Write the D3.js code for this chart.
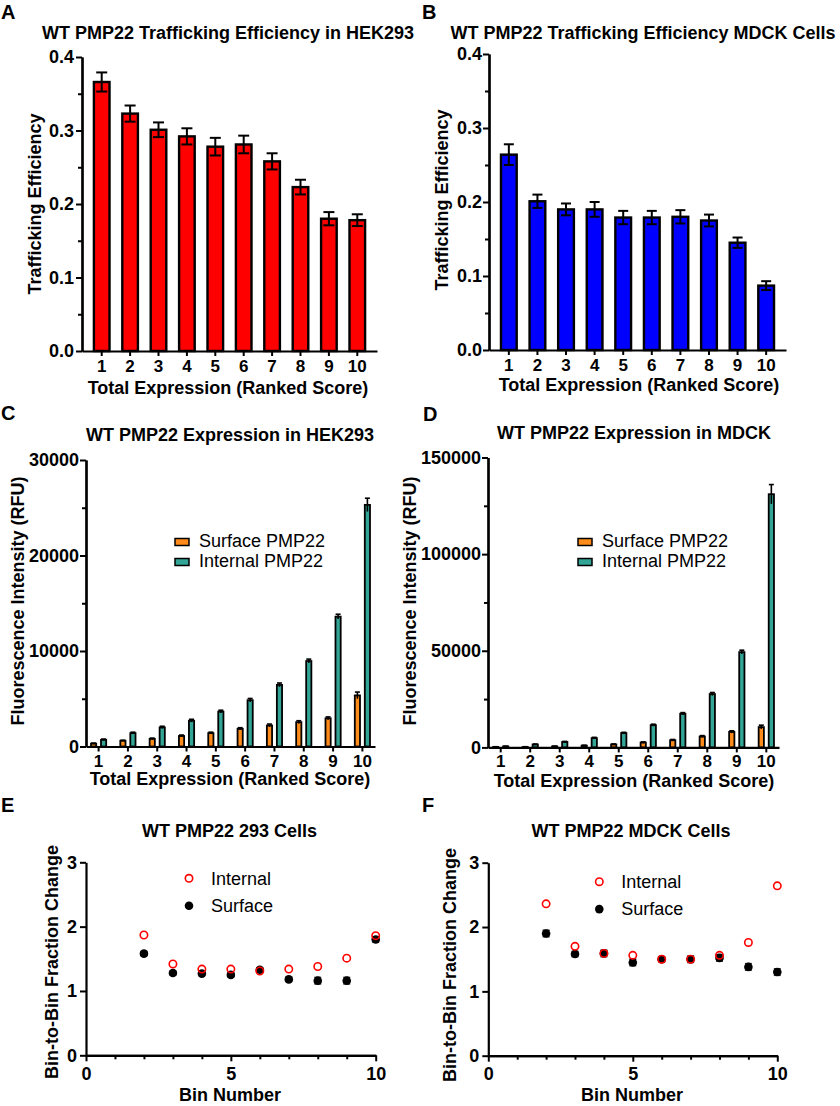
<!DOCTYPE html>
<html><head><meta charset="utf-8">
<script src="https://cdn.jsdelivr.net/npm/d3@7"></script>
<style>body{margin:0;background:#fff} text{font-family:Arial,"Liberation Sans",sans-serif}</style>
</head><body>
<svg id="c" width="840" height="1106" xmlns="http://www.w3.org/2000/svg"></svg>
<script>
// ---------- data ----------
const ranks = ["1","2","3","4","5","6","7","8","9","10"];
const hekEff = [0.366,0.323,0.301,0.292,0.278,0.281,0.258,0.223,0.180,0.178];
const hekEffErr = [0.013,0.011,0.010,0.011,0.012,0.012,0.011,0.010,0.009,0.008];
const mdckEff = [0.264,0.201,0.190,0.190,0.179,0.179,0.180,0.175,0.145,0.087];
const mdckEffErr = [0.014,0.009,0.008,0.010,0.009,0.009,0.009,0.008,0.007,0.006];

const hekSurface = [300,600,800,1100,1400,1850,2200,2550,2950,5350];
const hekSurfaceErr = [60,60,80,100,100,120,150,150,150,350];
const hekInternal = [700,1400,2000,2700,3650,4850,6450,8950,13600,25300];
const hekInternalErr = [80,100,120,150,150,180,200,200,250,700];

const mdckSurface = [200,200,500,900,1500,2500,3700,5600,8000,10500];
const mdckSurfaceErr = [150,150,200,250,300,350,400,500,600,1000];
const mdckInternal = [500,1500,2800,4800,7400,11500,17400,27600,49300,131000];
const mdckInternalErr = [150,250,300,400,400,500,600,800,1000,5000];

const bins = [2,3,4,5,6,7,8,9,10];
const hekBinInternal = [1.87,1.42,1.34,1.34,1.31,1.34,1.38,1.51,1.86];
const hekBinSurface = [1.58,1.28,1.27,1.25,1.33,1.18,1.16,1.16,1.80];
const hekBinSurfaceErr = [0.03,0.03,0.03,0.03,0.03,0.03,0.05,0.05,0.04];
const mdckBinInternal = [2.36,1.70,1.59,1.56,1.50,1.50,1.56,1.76,2.64];
const mdckBinSurface = [1.90,1.58,1.59,1.45,1.50,1.50,1.52,1.38,1.30];
const mdckBinSurfaceErr = [0.05,0.04,0.05,0.05,0.04,0.05,0.05,0.05,0.05];

const seriesNames = ["Surface PMP22","Internal PMP22"];
const scatterNames = ["Internal","Surface"];

// ---------- styles ----------
const RED = "#ff0000", BLUE = "#0000ff", ORANGE = "#ff8c1a", TEAL = "#33a596";
const svg = d3.select("#c");

function label(x, y, s, size, weight, anchor, rot) {
  const t = svg.append("text").attr("x", x).attr("y", y).attr("dy", "0.35em")
    .attr("font-size", size).attr("font-weight", weight || "bold")
    .attr("text-anchor", anchor || "middle").attr("fill", "#000").text(s);
  if (rot) t.attr("transform", `rotate(-90,${x},${y})`);
  return t;
}

function styleAxis(g, size, weight) {
  g.select(".domain").attr("stroke", "#000").attr("stroke-width", 2.2);
  g.selectAll(".tick line").attr("stroke", "#000").attr("stroke-width", 2);
  g.selectAll(".tick text").attr("font-size", size).attr("font-weight", weight || "bold")
    .attr("fill", "#000").attr("font-family", 'Arial,"Liberation Sans",sans-serif');
}

function yAxis(y, x0, major, minor, fmt, pad) {
  const gm = svg.append("g").attr("transform", `translate(${x0},0)`)
    .call(d3.axisLeft(y).tickValues(minor).tickSize(4).tickSizeOuter(0).tickFormat(""));
  styleAxis(gm, 18);
  const g = svg.append("g").attr("transform", `translate(${x0},0)`)
    .call(d3.axisLeft(y).tickValues(major).tickSize(6).tickSizeOuter(0).tickPadding(pad).tickFormat(fmt));
  styleAxis(g, 18);
}

// ---------- bar panels A & B ----------
function effPanel(cfg) {
  const x = d3.scaleBand().domain(ranks).range(cfg.xr).paddingInner(0.366).paddingOuter(0.377);
  const y = d3.scaleLinear().domain([0, 0.4]).range(cfg.yr);
  const bw = x.bandwidth();
  svg.append("g").selectAll("rect").data(cfg.vals).join("rect")
    .attr("x", (d, i) => x(ranks[i]) + 1.2).attr("width", bw - 2.4)
    .attr("y", d => y(d)).attr("height", d => y(0) - y(d))
    .attr("fill", cfg.color).attr("stroke", "#000").attr("stroke-width", 2.4);
  const eb = svg.append("g").attr("stroke", "#000").attr("stroke-width", 2);
  cfg.vals.forEach((v, i) => {
    const cx = x(ranks[i]) + bw / 2, e = cfg.errs[i];
    eb.append("line").attr("x1", cx).attr("x2", cx).attr("y1", y(v - e)).attr("y2", y(v + e));
    [v - e, v + e].forEach(w => eb.append("line").attr("x1", cx - cfg.cap / 2).attr("x2", cx + cfg.cap / 2)
      .attr("y1", y(w)).attr("y2", y(w)));
  });
  yAxis(y, cfg.xr[0], [0, 0.1, 0.2, 0.3, 0.4], [0.05, 0.15, 0.25, 0.35], d3.format(".1f"), cfg.ypad);
  const gx = svg.append("g").attr("transform", `translate(0,${cfg.yr[0]})`)
    .call(d3.axisBottom(x).tickSize(5).tickSizeOuter(0).tickPadding(4));
  styleAxis(gx, 17);
}

effPanel({xr: [82, 377], yr: [351, 57], vals: hekEff, errs: hekEffErr, color: RED, cap: 11, ypad: 2});
effPanel({xr: [489, 786], yr: [350, 54], vals: mdckEff, errs: mdckEffErr, color: BLUE, cap: 10, ypad: 1});

// ---------- grouped bar panels C & D ----------
function exprPanel(cfg) {
  const x0 = d3.scaleBand().domain(ranks).range(cfg.xr).paddingInner(0.42).paddingOuter(0.14);
  const x1 = d3.scaleBand().domain(seriesNames).range([0, x0.bandwidth()]).paddingInner(0.3);
  const y = d3.scaleLinear().domain([0, cfg.ymax]).range(cfg.yr);
  const bw = x1.bandwidth();
  const series = [
    {name: seriesNames[0], vals: cfg.surf, errs: cfg.surfErr, color: ORANGE},
    {name: seriesNames[1], vals: cfg.intl, errs: cfg.intlErr, color: TEAL}
  ];
  series.forEach(s => {
    svg.append("g").selectAll("rect").data(s.vals).join("rect")
      .attr("x", (d, i) => x0(ranks[i]) + x1(s.name) + 0.9).attr("width", bw - 1.8)
      .attr("y", d => y(d)).attr("height", d => Math.max(0, y(0) - y(d)))
      .attr("fill", s.color).attr("stroke", "#000").attr("stroke-width", 1.8);
    const eb = svg.append("g").attr("stroke", "#000").attr("stroke-width", 1.6);
    s.vals.forEach((v, i) => {
      const cx = x0(ranks[i]) + x1(s.name) + bw / 2, e = s.errs[i];
      eb.append("line").attr("x1", cx).attr("x2", cx).attr("y1", y(Math.max(0, v - e))).attr("y2", y(v + e));
      eb.append("line").attr("x1", cx - 2.5).attr("x2", cx + 2.5).attr("y1", y(v + e)).attr("y2", y(v + e));
    });
  });
  yAxis(y, cfg.xr[0], cfg.major, cfg.minor, d3.format("d"), 1);
  const gx = svg.append("g").attr("transform", `translate(0,${cfg.yr[0]})`)
    .call(d3.axisBottom(x0).tickSize(5).tickSizeOuter(0).tickPadding(3));
  styleAxis(gx, 17);
  // legend
  series.forEach((s, i) => {
    const ly = cfg.leg[1] + i * 20;
    svg.append("rect").attr("x", cfg.leg[0]).attr("y", ly - 3.5).attr("width", 14).attr("height", 7)
      .attr("fill", s.color).attr("stroke", "#000").attr("stroke-width", 1.5);
    label(cfg.leg[0] + 24, ly - 1, s.name, 18, "normal", "start");
  });
}

exprPanel({xr: [86, 375], yr: [746.5, 460], ymax: 30000, surf: hekSurface, surfErr: hekSurfaceErr,
  intl: hekInternal, intlErr: hekInternalErr, major: [0, 10000, 20000, 30000], minor: [5000, 15000, 25000], leg: [175, 542]});
exprPanel({xr: [488, 779], yr: [747.4, 457.5], ymax: 150000, surf: mdckSurface, surfErr: mdckSurfaceErr,
  intl: mdckInternal, intlErr: mdckInternalErr, major: [0, 50000, 100000, 150000], minor: [25000, 75000, 125000], leg: [578, 542]});

// ---------- scatter panels E & F ----------
function binPanel(cfg) {
  const x = d3.scaleLinear().domain([0, 10]).range(cfg.xr);
  const y = d3.scaleLinear().domain([0, 3]).range(cfg.yr);
  const eb = svg.append("g").attr("stroke", "#333").attr("stroke-width", 1.6);
  cfg.surf.forEach((v, i) => {
    const cx = x(bins[i]), e = cfg.surfErr[i];
    eb.append("line").attr("x1", cx).attr("x2", cx).attr("y1", y(v - e)).attr("y2", y(v + e));
    [v - e, v + e].forEach(w => eb.append("line").attr("x1", cx - 3.5).attr("x2", cx + 3.5).attr("y1", y(w)).attr("y2", y(w)));
  });
  svg.append("g").selectAll("circle").data(cfg.surf).join("circle")
    .attr("cx", (d, i) => x(bins[i])).attr("cy", d => y(d)).attr("r", 4.3).attr("fill", "#000");
  svg.append("g").selectAll("circle").data(cfg.intl).join("circle")
    .attr("cx", (d, i) => x(bins[i])).attr("cy", d => y(d)).attr("r", 3.7)
    .attr("fill", "none").attr("stroke", RED).attr("stroke-width", 1.6);
  const gy = svg.append("g").attr("transform", `translate(${cfg.xr[0]},0)`)
    .call(d3.axisLeft(y).tickValues([0, 1, 2, 3]).tickSize(6).tickSizeOuter(0).tickPadding(3).tickFormat(d3.format("d")));
  styleAxis(gy, 18);
  const gxm = svg.append("g").attr("transform", `translate(0,${cfg.yr[0]})`)
    .call(d3.axisBottom(x).tickValues([1, 2, 3, 4, 6, 7, 8, 9]).tickSize(4).tickSizeOuter(0).tickFormat(""));
  styleAxis(gxm, 18);
  const gx = svg.append("g").attr("transform", `translate(0,${cfg.yr[0]})`)
    .call(d3.axisBottom(x).tickValues([0, 5, 10]).tickSize(6).tickSizeOuter(0).tickPadding(6).tickFormat(d3.format("d")));
  styleAxis(gx, 18);
  svg.append("circle").attr("cx", cfg.leg[0]).attr("cy", cfg.leg[1]).attr("r", 3.7)
    .attr("fill", "none").attr("stroke", RED).attr("stroke-width", 1.6);
  label(cfg.leg[0] + 22, cfg.leg[1], scatterNames[0], 18, "normal", "start");
  svg.append("circle").attr("cx", cfg.leg[0]).attr("cy", cfg.leg[1] + 27.4).attr("r", 4.3).attr("fill", "#000");
  label(cfg.leg[0] + 22, cfg.leg[1] + 27.4, scatterNames[1], 18, "normal", "start");
}

binPanel({xr: [86, 375.7], yr: [1055.3, 862.3], intl: hekBinInternal, surf: hekBinSurface, surfErr: hekBinSurfaceErr, leg: [189, 878.3]});
binPanel({xr: [488.3, 777.3], yr: [1055.7, 862.7], intl: mdckBinInternal, surf: mdckBinSurface, surfErr: mdckBinSurfaceErr, leg: [599.3, 881.7]});

// ---------- texts ----------
label(1, 11.5, "A", 20, "bold", "start");
label(422, 11.5, "B", 20, "bold", "start");
label(1, 413, "C", 20, "bold", "start");
label(423, 414, "D", 20, "bold", "start");
label(1, 805, "E", 20, "bold", "start");
label(422, 805, "F", 20, "bold", "start");

label(228, 33, "WT PMP22 Trafficking Efficiency in HEK293", 18);
label(643, 33, "WT PMP22 Trafficking Efficiency MDCK Cells", 18);
label(230, 435, "WT PMP22 Expression in HEK293", 18);
label(634, 433, "WT PMP22 Expression in MDCK", 18);
label(229.5, 831, "WT PMP22 293 Cells", 18);
label(631, 831, "WT PMP22 MDCK Cells", 18);

label(35, 204, "Trafficking Efficiency", 18, "bold", "middle", true);
label(442, 200, "Trafficking Efficiency", 18, "bold", "middle", true);
label(18, 601, "Fluorescence Intensity (RFU)", 18, "bold", "middle", true);
label(410, 601, "Fluorescence Intensity (RFU)", 18, "bold", "middle", true);
label(52, 962, "Bin-to-Bin Fraction Change", 18, "bold", "middle", true);
label(450, 965, "Bin-to-Bin Fraction Change", 18, "bold", "middle", true);

label(228, 388, "Total Expression (Ranked Score)", 18);
label(639, 385, "Total Expression (Ranked Score)", 18);
label(230, 779, "Total Expression (Ranked Score)", 18);
label(634, 781, "Total Expression (Ranked Score)", 18);
label(230, 1095, "Bin Number", 18);
label(632, 1095, "Bin Number", 18);
</script>
</body></html>
